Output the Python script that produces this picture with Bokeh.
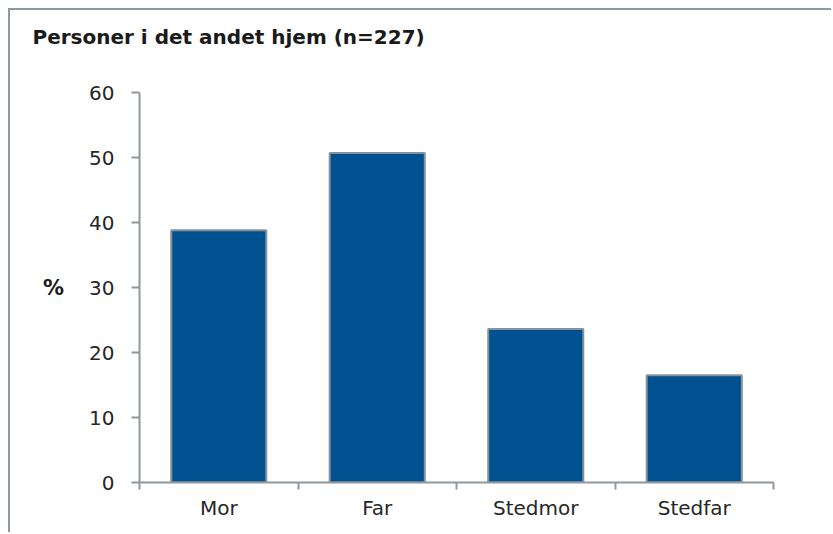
from bokeh.plotting import figure
from bokeh.models import Range1d, FixedTicker, Title
from bokeh.embed import file_html
from bokeh.resources import INLINE

categories = ["Mor", "Far", "Stedmor", "Stedfar"]
values = [38.8, 50.7, 23.6, 16.5]
y_ticks = [0, 10, 20, 30, 40, 50, 60]
title_text = "Personer i det andet hjem (n=227)"
y_label = "%"

FONT = "DejaVu Sans"
AXIS_COLOR = "#8f989f"
BAR_COLOR = "#00518f"
BAR_LINE = "#8a9299"

n = len(categories)
centers = [i + 0.5 for i in range(n)]
bounds = list(range(n + 1))

p = figure(width=823, height=524, output_backend="svg", toolbar_location=None,
           x_range=Range1d(0, n), y_range=Range1d(0, y_ticks[-1]),
           min_border_left=129, min_border_right=60, min_border_top=82,
           min_border_bottom=52, title=None)
p.styles = {"border-top": "2px solid #8f989f", "border-left": "2px solid #8f989f",
            "transform": "translate(8px, 8px)"}

p.vbar(x=centers, top=values, width=0.6, fill_color=BAR_COLOR,
       line_color=BAR_LINE, line_width=2)

# spacer panel (nearest the frame), then the real title above it
spacer = Title(text=" ", text_font_size="1px", text_color="white", standoff=29)
p.add_layout(spacer, "above")
main_title = Title(text=title_text, text_font=FONT, text_font_style="bold",
                   text_font_size="20px", text_color="#1a1a1a",
                   offset=-107, standoff=24)
p.add_layout(main_title, "above")

p.grid.visible = False
p.outline_line_color = None
p.background_fill_color = "white"
p.border_fill_color = "white"

xa = p.xaxis[0]
xa.ticker = FixedTicker(ticks=centers, minor_ticks=bounds)
xa.major_label_overrides = {c: name for c, name in zip(centers, categories)}
xa.major_tick_out = 0
xa.major_tick_in = 0
xa.minor_tick_out = 7
xa.minor_tick_in = 0
xa.minor_tick_line_color = AXIS_COLOR
xa.minor_tick_line_width = 2
xa.axis_line_color = AXIS_COLOR
xa.axis_line_width = 2
xa.major_label_text_font = FONT
xa.major_label_text_font_size = "20px"
xa.major_label_text_color = "#262626"
xa.major_label_standoff = 6

ya = p.yaxis[0]
ya.ticker = FixedTicker(ticks=y_ticks, minor_ticks=[])
ya.major_tick_out = 8
ya.major_tick_in = 0
ya.major_tick_line_color = AXIS_COLOR
ya.major_tick_line_width = 2
ya.axis_line_color = AXIS_COLOR
ya.axis_line_width = 2
ya.major_label_text_font = FONT
ya.major_label_text_font_size = "20px"
ya.major_label_text_color = "#262626"
ya.major_label_standoff = 17
ya.axis_label = y_label
ya.axis_label_orientation = "horizontal"
ya.axis_label_text_font = FONT
ya.axis_label_text_font_style = "bold"
ya.axis_label_text_font_size = "21px"
ya.axis_label_text_color = "#1a1a1a"
ya.axis_label_standoff = 22

open("out.html", "w").write(file_html(p, INLINE))
